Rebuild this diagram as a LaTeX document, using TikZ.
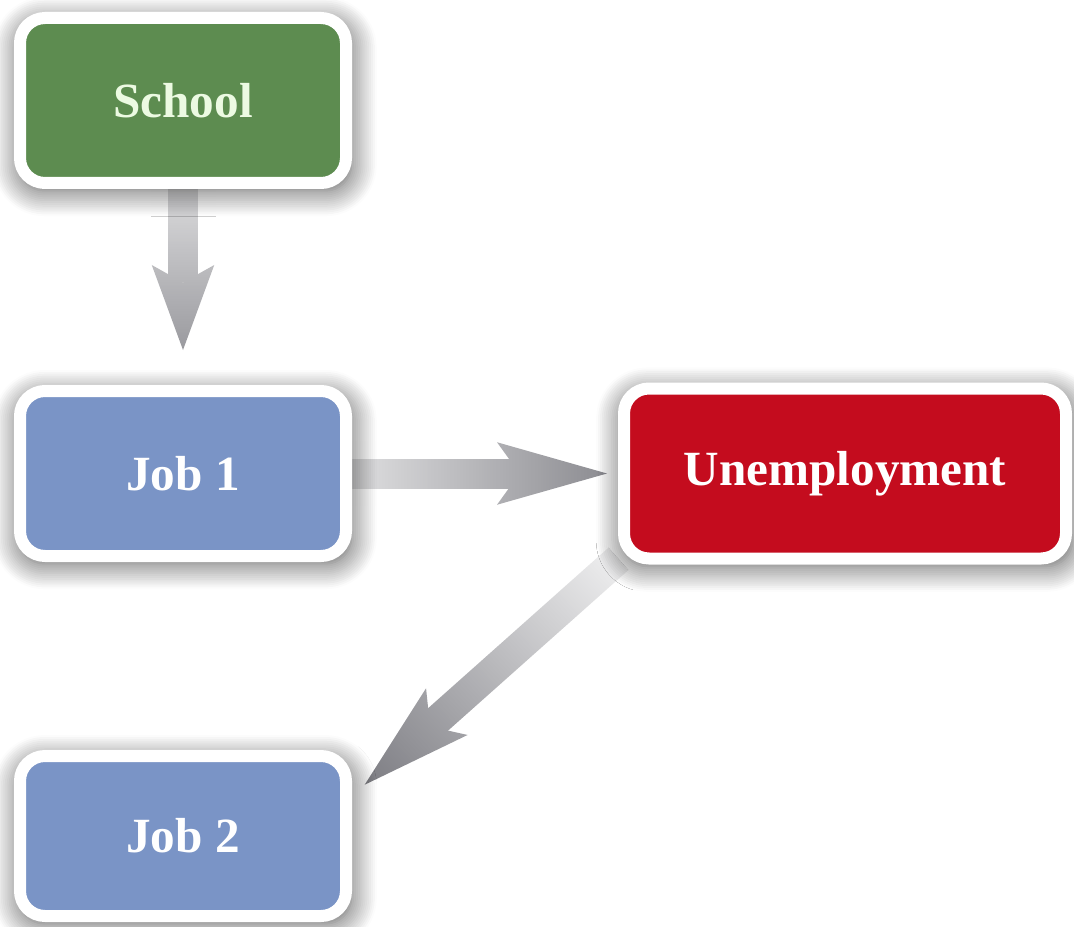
\documentclass[tikz,border=0pt]{standalone}
\usepackage{fontspec}
\setmainfont{Liberation Serif}
\usetikzlibrary{positioning, arrows.meta, shadows.blur, fadings}

\definecolor{schoolgreen}{RGB}{93,140,80}
\definecolor{schooltext}{RGB}{236,250,226}
\definecolor{jobblue}{RGB}{122,148,198}
\definecolor{jobred}{RGB}{196,12,30}
\definecolor{arrowgray}{RGB}{124,124,130}

\tikzfading[name=washfade, left color=transparent!15, right color=transparent!100]
\pgfdeclarelayer{back}
\pgfsetlayers{back,main}

\begin{document}
\begin{tikzpicture}[node distance=4cm, auto,
    stage/.style={rectangle, rounded corners=0.5cm, draw=white, line width=0.24cm, outer sep=0pt,
        minimum width=6.52cm, minimum height=3.3cm, text=white,
        font=\fontsize{28}{32}\selectfont\bfseries,
        blur shadow={shadow blur steps=14, shadow blur radius=0.5cm, shadow scale=1.02, shadow xshift=0.04cm, shadow yshift=-0.12cm, shadow opacity=68}},
    flow/.style={draw=arrowgray, line width=0.6cm},
    wash/.style={draw=white, line width=1.3cm, path fading=washfade}]
    \useasboundingbox (0,0) rectangle (21.48,18.52);

    \node [stage, fill=schoolgreen, text=schooltext] (school) at (3.66,16.51) {School};
    \node [stage, fill=jobblue, below=4.16cm of school] (job1) {Job 1};
    \node [stage, fill=jobred, minimum width=8.84cm, minimum height=3.4cm, right=5.56cm of job1] (unemp) {Unemployment};
    \node [stage, fill=jobblue, minimum height=3.2cm, below=4.0cm of job1] (job2) {Job 2};

    % arrows behind the boxes, with a white wash over each for the gradient
    \begin{pgfonlayer}{back}
    \draw [flow, shorten <=0.1cm, shorten >=0.82cm,
        -{Stealth[length=1.7cm, width=1.25cm, inset=0.35cm, line width=0pt]}] (school) -- (job1);
    \draw [flow, shorten <=0.1cm, shorten >=0.34cm,
        -{Stealth[length=2.2cm, width=1.25cm, inset=0.45cm, line width=0pt]}] (job1) -- (unemp);
    \draw [flow, shorten <=0.15cm, shorten >=0.5cm,
        -{Stealth[length=2.2cm, width=1.25cm, inset=0.45cm, line width=0pt]}] (unemp.200) -- (job2.12);

    \draw [wash, fading angle=-90, shorten <=0.1cm, shorten >=0.82cm] (school) -- (job1);
    \draw [wash, fading angle=0, shorten <=0.1cm, shorten >=0.34cm] (job1) -- (unemp);
    \draw [wash, fading angle=220, shorten <=0.15cm, shorten >=0.5cm] (unemp.200) -- (job2.12);
    \end{pgfonlayer}
\end{tikzpicture}
\end{document}
